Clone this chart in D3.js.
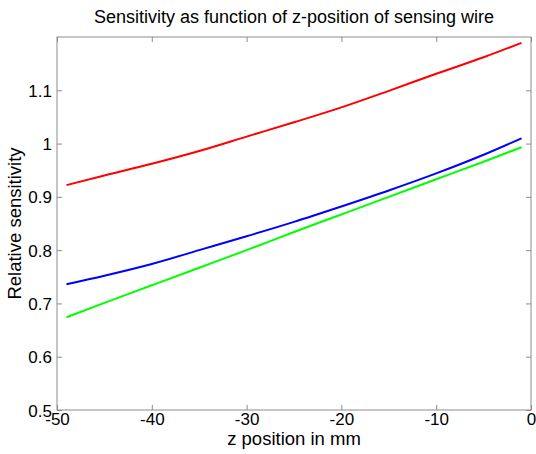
<!DOCTYPE html>
<html>
<head>
<meta charset="utf-8">
<script src="https://cdn.jsdelivr.net/npm/d3@7"></script>
<style>
  body { margin: 0; background: #fff; }
  svg { display: block; font-family: 'Liberation Sans', Arial, sans-serif; }
</style>
</head>
<body>
<main></main>
<script>
const zPos = [-49, -45, -40, -35, -30, -25, -20, -15, -10, -5, -1];
const redSens = [0.922, 0.940, 0.962, 0.986, 1.013, 1.040, 1.068, 1.099, 1.131, 1.162, 1.189];
const blueSens = [0.736, 0.752, 0.774, 0.800, 0.826, 0.853, 0.882, 0.912, 0.944, 0.979, 1.010];
const greenSens = [0.674, 0.701, 0.734, 0.767, 0.800, 0.834, 0.867, 0.900, 0.933, 0.966, 0.993];
const xTicks = [-50, -40, -30, -20, -10, 0];
const yTicks = [0.5, 0.6, 0.7, 0.8, 0.9, 1.0, 1.1];

const width = 536;
const height = 454;
const plotLeft = 57, plotRight = 531, plotTop = 37, plotBottom = 410;

const series = [
  { values: redSens, color: '#ff0000' },
  { values: blueSens, color: '#0000ff' },
  { values: greenSens, color: '#00ff00' }
];

const xScale = d3.scaleLinear().domain([-50, 0]).range([plotLeft, plotRight]);
const yScale = d3.scaleLinear().domain([0.5, 1.2]).range([plotBottom, plotTop]);

const svg = d3.select('main')
  .append('svg')
  .attr('width', width)
  .attr('height', height);

// lines
const line = d3.line()
  .x((d, i) => xScale(zPos[i]))
  .y(d => yScale(d))
  .curve(d3.curveMonotoneX);

svg.selectAll('.series')
  .data(series)
  .enter()
  .append('path')
  .attr('class', 'series')
  .attr('d', d => line(d.values))
  .style('fill', 'none')
  .style('stroke', d => d.color)
  .style('stroke-width', 2);

// axes (ticks inward, mirrored on top/right)
const axisColor = '#8c8c8c';
const fmtX = d => String(d);
const fmtY = d => String(+d.toFixed(1));

const xAxis = d3.axisBottom(xScale).tickValues(xTicks).tickSize(-5).tickPadding(3).tickFormat(fmtX).tickSizeOuter(0);
const xAxisTop = d3.axisTop(xScale).tickValues(xTicks).tickSize(-5).tickFormat('').tickSizeOuter(0);
const yAxis = d3.axisLeft(yScale).tickValues(yTicks).tickSize(-5).tickPadding(5).tickFormat(fmtY).tickSizeOuter(0);
const yAxisRight = d3.axisRight(yScale).tickValues(yTicks).tickSize(-5).tickFormat('').tickSizeOuter(0);

svg.append('g').attr('transform', `translate(0, ${plotBottom})`).call(xAxis);
svg.append('g').attr('transform', `translate(0, ${plotTop})`).call(xAxisTop);
const gy = svg.append('g').attr('transform', `translate(${plotLeft}, 0)`).call(yAxis);
svg.append('g').attr('transform', `translate(${plotRight}, 0)`).call(yAxisRight);

svg.selectAll('.domain').remove();
svg.selectAll('.tick line').style('stroke', axisColor);
svg.selectAll('.tick text')
  .style('font-size', '17px')
  .style('fill', '#000')
  .style('font-family', "'Liberation Sans', Arial, sans-serif");
gy.selectAll('.tick text').attr('dy', '0.36em');

// box
svg.append('rect')
  .attr('x', plotLeft)
  .attr('y', plotTop)
  .attr('width', plotRight - plotLeft)
  .attr('height', plotBottom - plotTop)
  .style('fill', 'none')
  .style('stroke', axisColor)
  .style('stroke-width', 1);

// title
svg.append('text')
  .text('Sensitivity as function of z-position of sensing wire')
  .attr('x', (plotLeft + plotRight) / 2)
  .attr('y', 23)
  .style('text-anchor', 'middle')
  .style('font-size', '18px');

// x label
svg.append('text')
  .text('z position in mm')
  .attr('x', (plotLeft + plotRight) / 2)
  .attr('y', 445)
  .style('text-anchor', 'middle')
  .style('font-size', '18.5px');

// y label
svg.append('text')
  .text('Relative sensitivity')
  .attr('transform', `translate(21, ${(plotTop + plotBottom) / 2}) rotate(-90)`)
  .style('text-anchor', 'middle')
  .style('font-size', '18.5px');
</script>
</body>
</html>
